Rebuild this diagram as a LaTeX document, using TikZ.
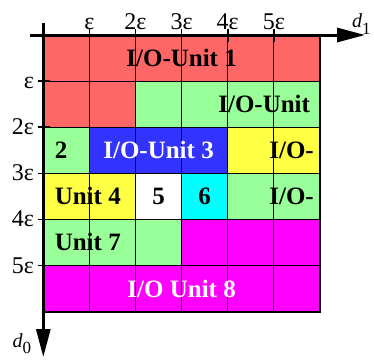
\documentclass[tikz,border=0pt]{standalone}
\usepackage{fontspec}
\setmainfont{Liberation Serif}
\usetikzlibrary{arrows.meta}
\definecolor{cred}{RGB}{255,102,102}
\definecolor{cgreen}{RGB}{153,255,153}
\definecolor{cblue}{RGB}{51,51,255}
\definecolor{cyellow}{RGB}{255,255,68}
\definecolor{ccyan}{RGB}{0,255,255}
\definecolor{cmag}{RGB}{255,0,255}
\begin{document}
\begin{tikzpicture}[x=1pt,y=-1pt,
  gridline/.style={line width=0.8pt,black},
  axisline/.style={line width=3pt,black,-{Triangle[length=28pt,width=14pt]}},
  ticktop/.style={line width=1.6pt,black},
  ticklbl/.style={inner sep=0pt,font=\fontsize{24}{28}\selectfont},
  celllbl/.style={inner sep=0pt,font=\fontsize{25}{30}\selectfont\bfseries},
  axlbl/.style={inner sep=0pt}]
\useasboundingbox (0,0) rectangle (374,359);
\begin{scope}[shift={(43.3pt,-35pt)},x=46.1pt,y=-46.1pt]
  % fills
  \fill[cred] (0,0) rectangle (6,1);
  \fill[cred] (0,1) rectangle (2,2);
  \fill[cgreen] (2,1) rectangle (6,2);
  \fill[cgreen] (0,2) rectangle (1,3);
  \fill[cblue] (1,2) rectangle (4,3);
  \fill[cyellow] (4,2) rectangle (6,3);
  \fill[cyellow] (0,3) rectangle (2,4);
  \fill[white] (2,3) rectangle (3,4);
  \fill[ccyan] (3,3) rectangle (4,4);
  \fill[cgreen] (4,3) rectangle (6,4);
  \fill[cgreen] (0,4) rectangle (3,5);
  \fill[cmag] (3,4) rectangle (6,5);
  \fill[cmag] (0,5) rectangle (6,6);
  % grid
  \foreach \i in {1,...,5} {
    \draw[gridline] (\i,0) -- (\i,6);
    \draw[gridline] (0,\i) -- (6,\i);
  }
  \draw[line width=2pt,line cap=rect] (6,0) -- (6,6) -- (0,6);
  % axes
  \coordinate (h0) at (-0.29,0);
  \coordinate (h1) at (6.98,0);
  \coordinate (v0) at (0,-0.26);
  \coordinate (v1) at (0,6.985);
  \draw[axisline] (h0) -- (h1);
  \draw[axisline] (v0) -- (v1);
  % ticks
  \foreach \i in {1,...,5} {
    \draw[ticktop] (\i,-0.13) -- (\i,0.152);
    \draw[ticktop] (-0.115,\i) -- (0.145,\i);
  }
  \node[ticklbl,anchor=base] (t1) at (1,-0.13) {ε};
  \node[ticklbl,anchor=base] (t2) at (2,-0.13) {2ε};
  \node[ticklbl,anchor=base] (t3) at (3,-0.13) {3ε};
  \node[ticklbl,anchor=base] (t4) at (4,-0.13) {4ε};
  \node[ticklbl,anchor=base] (t5) at (5,-0.13) {5ε};
  \node[ticklbl,anchor=base east] (l1) at (-0.2,1.163) {ε};
  \node[ticklbl,anchor=base east] (l2) at (-0.2,2.163) {2ε};
  \node[ticklbl,anchor=base east] (l3) at (-0.2,3.163) {3ε};
  \node[ticklbl,anchor=base east] (l4) at (-0.2,4.163) {4ε};
  \node[ticklbl,anchor=base east] (l5) at (-0.2,5.163) {5ε};
  % cell labels
  \node[celllbl,anchor=base] (u1) at (3,0.685) {I/O-Unit 1};
  \node[celllbl,anchor=base east] (u2) at (5.79,1.685) {I/O-Unit};
  \node[celllbl,anchor=base west] (n2) at (0.245,2.685) {2};
  \node[celllbl,anchor=base,text=white] (u3) at (2.5,2.685) {I/O-Unit 3};
  \node[celllbl,anchor=base east] (u3b) at (5.872,2.685) {I/O-};
  \node[celllbl,anchor=base west] (u4) at (0.245,3.685) {Unit 4};
  \node[celllbl,anchor=base] (n5) at (2.5,3.685) {5};
  \node[celllbl,anchor=base] (n6) at (3.5,3.685) {6};
  \node[celllbl,anchor=base east] (u6) at (5.872,3.685) {I/O-};
  \node[celllbl,anchor=base west] (u7) at (0.245,4.685) {Unit 7};
  \node[celllbl,anchor=base,text=white] (u8) at (3,5.685) {I/O Unit 8};
\end{scope}
\node[axlbl,anchor=base west] (d1) at (352,27) {{\fontsize{20}{24}\selectfont\itshape d}\raisebox{-7pt}{\fontsize{17}{20}\selectfont 1}};
\node[axlbl,anchor=base west] (d0) at (12.5,347) {{\fontsize{20}{24}\selectfont\itshape d}\raisebox{-6pt}{\fontsize{17}{20}\selectfont 0}};
\end{tikzpicture}
\end{document}
